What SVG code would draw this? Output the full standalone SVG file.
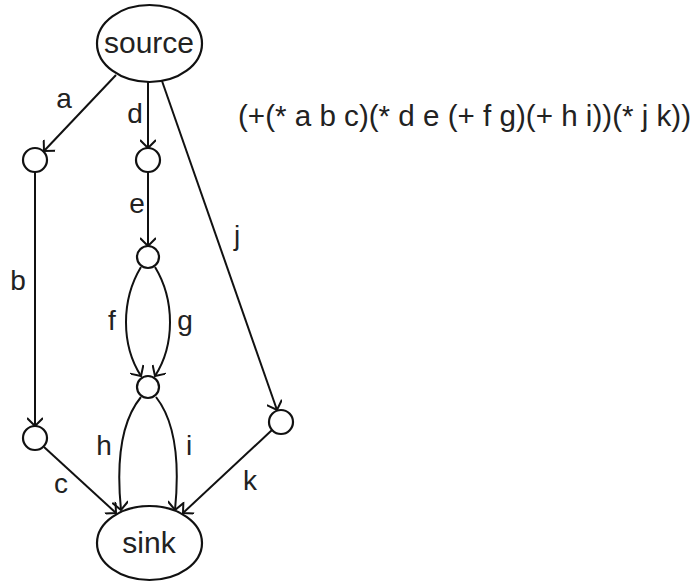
<svg xmlns="http://www.w3.org/2000/svg" width="699" height="582" viewBox="0 0 699 582">
<style>
.n{fill:none;stroke:#111;stroke-width:2.2}
.e{fill:none;stroke:#111;stroke-width:2;marker-end:url(#ar)}
text{font-family:"Liberation Sans",Arial,sans-serif;font-size:28px;fill:#222}
.big{font-size:30px}
.f{font-size:29.6px}
</style>
<defs>
<marker id="ar" markerUnits="userSpaceOnUse" viewBox="0 0 12 16" refX="11" refY="8" markerWidth="12" markerHeight="16" orient="auto">
<path d="M3,0 L11,8 L3,16" fill="none" stroke="#111" stroke-width="2"/>
</marker>
</defs>
<rect width="699" height="582" fill="#fff"/>
<g id="connectors">
<path class="e" d="M116,75 L44,151"/>
<path class="e" d="M148,82 L148,148"/>
<path class="e" d="M162,81 L277,410"/>
<path class="e" d="M35,172 L35,426"/>
<path class="e" d="M148,171 L148,246"/>
<path class="e" d="M141,267 C121,300 121,345 141,376"/>
<path class="e" d="M155,267 C175,300 175,345 155,376"/>
<path class="e" d="M141,397 C118,425 117,470 121,510"/>
<path class="e" d="M156,397 C178,425 179,470 175,510"/>
<path class="e" d="M44,447 L116,513"/>
<path class="e" d="M272,430 L183,513"/>
</g>
<g id="source"><ellipse class="n" cx="149.5" cy="43.5" rx="52.5" ry="38.5"/><text class="big" x="149" y="53" text-anchor="middle">source</text></g>
<g id="sink"><ellipse class="n" cx="149.5" cy="543" rx="52.5" ry="37"/><text class="big" x="149" y="553" text-anchor="middle">sink</text></g>
<g id="n1"><circle class="n" cx="35" cy="160" r="12"/></g>
<g id="n2"><circle class="n" cx="148" cy="160" r="12"/></g>
<g id="n3"><circle class="n" cx="148" cy="257" r="11"/></g>
<g id="n4"><circle class="n" cx="148" cy="387" r="11"/></g>
<g id="n5"><circle class="n" cx="35" cy="438" r="12"/></g>
<g id="n6"><circle class="n" cx="281" cy="422" r="12"/></g>
<g id="labels">
<text x="64" y="108" text-anchor="middle">a</text>
<text x="135" y="123" text-anchor="middle">d</text>
<text x="137" y="213" text-anchor="middle">e</text>
<text x="18" y="290" text-anchor="middle">b</text>
<text x="237" y="245" text-anchor="middle">j</text>
<text x="112" y="330" text-anchor="middle">f</text>
<text x="185" y="330" text-anchor="middle">g</text>
<text x="104" y="455" text-anchor="middle">h</text>
<text x="189" y="455" text-anchor="middle">i</text>
<text x="61" y="493" text-anchor="middle">c</text>
<text x="250" y="490" text-anchor="middle">k</text>
</g>
<text id="formula" class="f" x="238" y="126">(+(* a b c)(* d e (+ f g)(+ h i))(* j k))</text>
</svg>
